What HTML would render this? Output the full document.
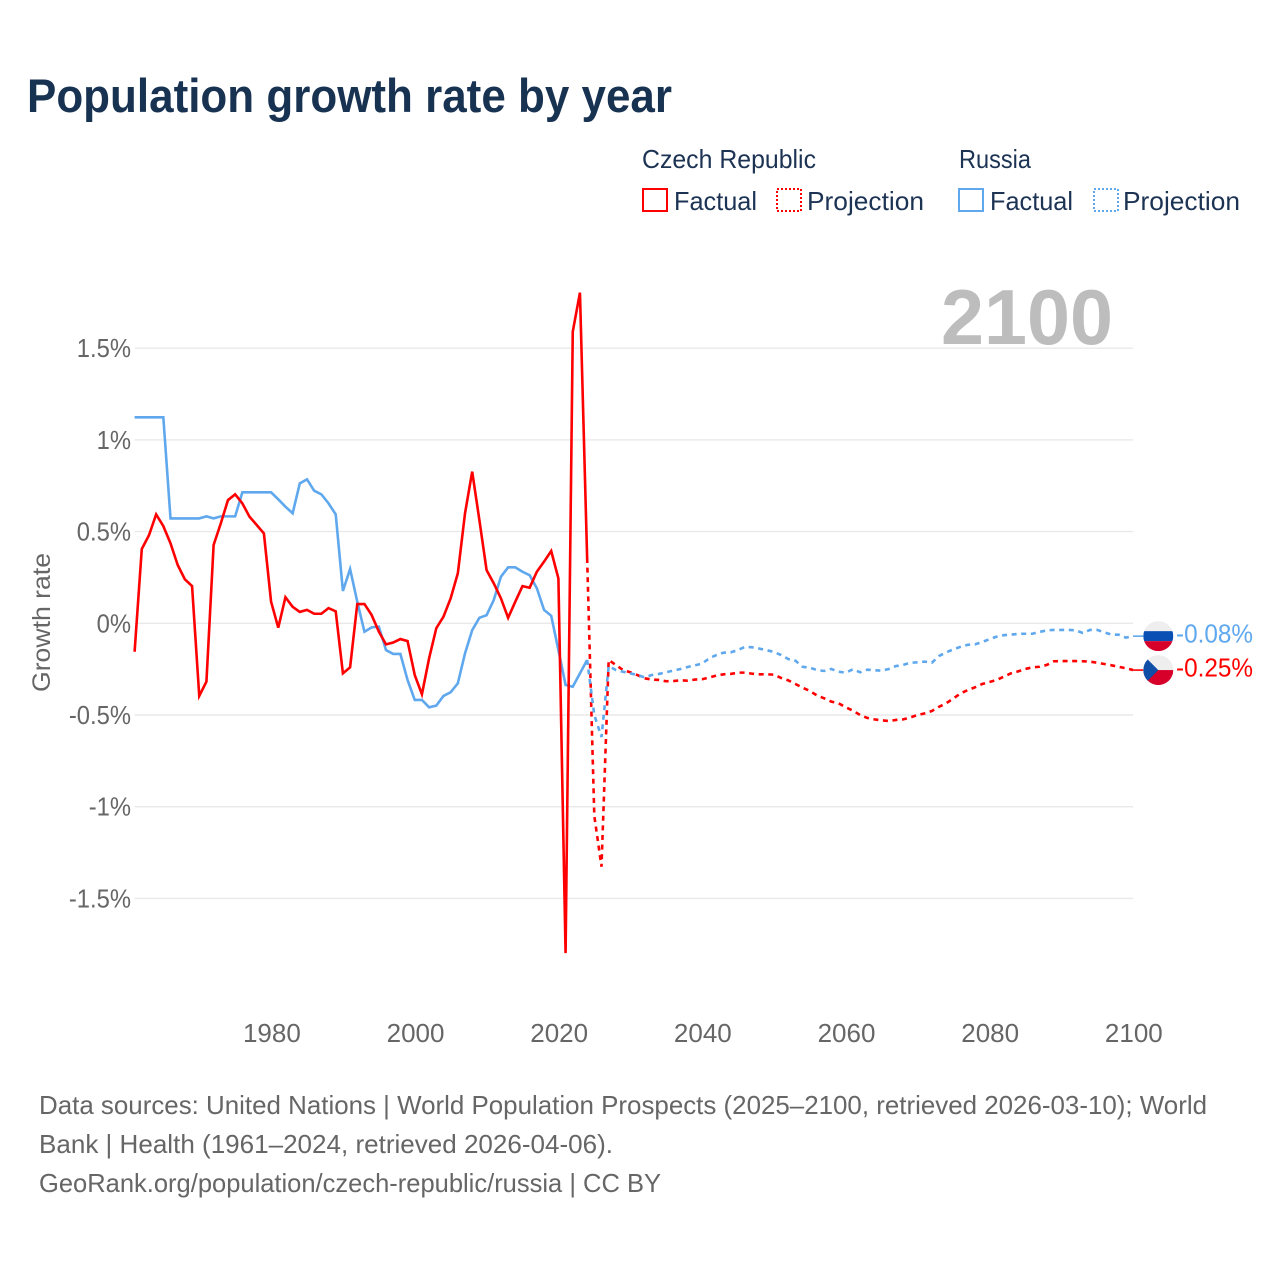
<!DOCTYPE html>
<html lang="en">
<head>
<meta charset="utf-8">
<title>Population growth rate by year</title>
<style>
html,body{margin:0;padding:0;background:#fff;width:1280px;height:1280px;overflow:hidden}
svg{display:block}
text{font-family:"Liberation Sans",sans-serif}
</style>
</head>
<body>
<svg id="chart" width="1280" height="1280" viewBox="0 0 1280 1280" xmlns="http://www.w3.org/2000/svg">
  <rect x="0" y="0" width="1280" height="1280" fill="#fff"/>
  <text x="27" y="112" font-size="47" font-weight="700" fill="#183252" textLength="645" lengthAdjust="spacingAndGlyphs">Population growth rate by year</text>

  <g>
    <text x="642" y="168" font-size="26" fill="#1c3354" textLength="174" lengthAdjust="spacingAndGlyphs">Czech Republic</text>
    <text x="959" y="168" font-size="26" fill="#1c3354" textLength="72" lengthAdjust="spacingAndGlyphs">Russia</text>
    <rect x="643" y="189" width="24" height="22" fill="none" stroke="#ff0000" stroke-width="2" shape-rendering="crispEdges"/>
    <text x="674" y="210" font-size="26" fill="#1c3354" textLength="83" lengthAdjust="spacingAndGlyphs">Factual</text>
    <rect x="777" y="189" width="24" height="22" fill="none" stroke="#ff0000" stroke-width="2" stroke-dasharray="2 2" shape-rendering="crispEdges"/>
    <text x="807" y="210" font-size="26" fill="#1c3354" textLength="117" lengthAdjust="spacingAndGlyphs">Projection</text>
    <rect x="959" y="189" width="24" height="22" fill="none" stroke="#5fa8ee" stroke-width="2" shape-rendering="crispEdges"/>
    <text x="990" y="210" font-size="26" fill="#1c3354" textLength="83" lengthAdjust="spacingAndGlyphs">Factual</text>
    <rect x="1094" y="189" width="24" height="22" fill="none" stroke="#5fa8ee" stroke-width="2" stroke-dasharray="2 2" shape-rendering="crispEdges"/>
    <text x="1123" y="210" font-size="26" fill="#1c3354" textLength="117" lengthAdjust="spacingAndGlyphs">Projection</text>
  </g>

  <g id="grid"></g>
  <g id="y-ticks"></g>
  <g id="x-ticks"></g>

  <text transform="translate(50 692) rotate(-90)" font-size="25" fill="#666" textLength="139" lengthAdjust="spacingAndGlyphs">Growth rate</text>
  <text x="941" y="344" font-size="78" font-weight="700" fill="#bdbdbd" textLength="172" lengthAdjust="spacingAndGlyphs">2100</text>

  <g id="series"></g>
  <g id="end-markers"></g>

  <g>
    <text x="39" y="1114" font-size="26" fill="#666" textLength="1168" lengthAdjust="spacingAndGlyphs">Data sources: United Nations | World Population Prospects (2025–2100, retrieved 2026-03-10); World</text>
    <text x="39" y="1153" font-size="26" fill="#666" textLength="574" lengthAdjust="spacingAndGlyphs">Bank | Health (1961–2024, retrieved 2026-04-06).</text>
    <text x="39" y="1192" font-size="26" fill="#666" textLength="622" lengthAdjust="spacingAndGlyphs">GeoRank.org/population/czech-republic/russia | CC BY</text>
  </g>
</svg>

<script>
const xTickYears = [1980, 2000, 2020, 2040, 2060, 2080, 2100];
const yTickValues = [1.5, 1, 0.5, 0, -0.5, -1, -1.5];
const yTickLabels = ['1.5%', '1%', '0.5%', '0%', '-0.5%', '-1%', '-1.5%'];

const factualStartYear = 1961;
const projectionStartYear = 2024;

const czechFactual = [
  -0.155, 0.405, 0.48, 0.594, 0.53, 0.436, 0.318, 0.24, 0.203, -0.396,
  -0.318, 0.427, 0.545, 0.672, 0.703, 0.654, 0.581, 0.536, 0.49, 0.118,
  -0.024, 0.142, 0.09, 0.062, 0.073, 0.052, 0.052, 0.083, 0.065, -0.273,
  -0.24, 0.105, 0.105, 0.045, -0.045, -0.115, -0.105, -0.086, -0.097, -0.282,
  -0.387, -0.191, -0.027, 0.036, 0.136, 0.273, 0.6, 0.827, 0.563, 0.29,
  0.218, 0.136, 0.03, 0.118, 0.203, 0.194, 0.281, 0.336, 0.394, 0.245,
  -1.798, 1.59, 1.803, 0.356
];
const czechProjection = [
  0.356, -1.05, -1.327, -0.2, -0.227, -0.255, -0.267, -0.282, -0.3, -0.307,
  -0.309, -0.316, -0.315, -0.311, -0.313, -0.307, -0.305, -0.296, -0.285, -0.278,
  -0.276, -0.269, -0.269, -0.275, -0.278, -0.278, -0.28, -0.298, -0.311, -0.331,
  -0.351, -0.369, -0.393, -0.409, -0.427, -0.436, -0.458, -0.476, -0.5, -0.516,
  -0.524, -0.529, -0.533, -0.527, -0.524, -0.513, -0.5, -0.491, -0.478, -0.455,
  -0.436, -0.409, -0.382, -0.364, -0.349, -0.331, -0.32, -0.309, -0.291, -0.273,
  -0.262, -0.249, -0.24, -0.237, -0.227, -0.207, -0.206, -0.206, -0.206, -0.207,
  -0.209, -0.215, -0.222, -0.229, -0.237, -0.245, -0.255
];
const russiaFactual = [
  1.123, 1.123, 1.123, 1.123, 1.123, 0.572, 0.572, 0.572, 0.572, 0.572,
  0.583, 0.572, 0.583, 0.583, 0.583, 0.714, 0.714, 0.714, 0.714, 0.714,
  0.676, 0.636, 0.6, 0.763, 0.785, 0.723, 0.703, 0.654, 0.594, 0.176,
  0.296, 0.118, -0.046, -0.022, -0.018, -0.146, -0.167, -0.167, -0.309, -0.418,
  -0.418, -0.458, -0.449, -0.396, -0.376, -0.327, -0.164, -0.037, 0.03, 0.044,
  0.127, 0.254, 0.305, 0.305, 0.281, 0.262, 0.191, 0.073, 0.041, -0.146,
  -0.336, -0.346, -0.273, -0.2
];
const russiaProjection = [
  -0.2, -0.5, -0.62, -0.233, -0.255, -0.264, -0.273, -0.282, -0.295, -0.282,
  -0.276, -0.267, -0.258, -0.249, -0.238, -0.229, -0.22, -0.191, -0.173, -0.16,
  -0.158, -0.146, -0.128, -0.131, -0.138, -0.147, -0.156, -0.173, -0.195, -0.204,
  -0.237, -0.242, -0.255, -0.26, -0.249, -0.264, -0.269, -0.251, -0.267, -0.253,
  -0.256, -0.258, -0.249, -0.233, -0.227, -0.215, -0.213, -0.209, -0.215, -0.178,
  -0.158, -0.142, -0.128, -0.117, -0.115, -0.102, -0.087, -0.073, -0.065, -0.062,
  -0.058, -0.057, -0.057, -0.047, -0.038, -0.036, -0.036, -0.036, -0.038, -0.053,
  -0.036, -0.036, -0.049, -0.062, -0.062, -0.078, -0.07
];
const russiaEndLabel = '-0.08%';
const czechEndLabel = '-0.25%';

const SVG_NS = 'http://www.w3.org/2000/svg';
const RED = '#ff0000';
const BLUE = '#5fa8ee';

function xScale(year) { return 134.6 + (year - 1961) * 7.183; }
function yScale(value) { return 623.3 - value * 183.4; }

function make(tag, attrs, parent) {
  const el = document.createElementNS(SVG_NS, tag);
  Object.keys(attrs).forEach(function (k) { el.setAttribute(k, attrs[k]); });
  parent.appendChild(el);
  return el;
}

const gridGroup = document.getElementById('grid');
const yTickGroup = document.getElementById('y-ticks');
const xTickGroup = document.getElementById('x-ticks');
const seriesGroup = document.getElementById('series');
const markerGroup = document.getElementById('end-markers');

yTickValues.forEach(function (value, i) {
  const line = make('line', { x1: 134.6, x2: 1133, y1: yScale(value), y2: yScale(value), stroke: '#e9e9e9', 'stroke-width': 1.4 }, gridGroup);
  
  
  const label = make('text', { x: 131, y: yScale(value) + 9, 'text-anchor': 'end', 'font-size': 26, fill: '#666', lengthAdjust: 'spacingAndGlyphs' }, yTickGroup);
  
  
  label.textContent = yTickLabels[i];
  label.setAttribute('textLength', (label.getComputedTextLength() * 0.915).toFixed(1));
});

xTickYears.forEach(function (year) {
  const label = make('text', { x: xScale(year) + 0.8, y: 1042, 'text-anchor': 'middle', 'font-size': 26, fill: '#666' }, xTickGroup);
  
  
  label.textContent = String(year);
});

function pointsFor(values, startYear) {
  return values.map(function (v, i) {
    return xScale(startYear + i).toFixed(2) + ',' + yScale(v).toFixed(2);
  }).join(' ');
}

function drawLine(values, startYear, color, dashed) {
  const attrs = { points: pointsFor(values, startYear), fill: 'none', stroke: color, 'stroke-width': 2.6, 'stroke-linejoin': 'miter' };
  if (dashed) { attrs['stroke-dasharray'] = '5 4.6'; }
  return make('polyline', attrs, seriesGroup);
}

const russiaFactualLine = drawLine(russiaFactual, factualStartYear, BLUE, false);


const czechFactualLine = drawLine(czechFactual, factualStartYear, RED, false);


const czechProjectionLine = drawLine(czechProjection, projectionStartYear, RED, true);


const russiaProjectionLine = drawLine(russiaProjection, projectionStartYear, BLUE, true);



const flagX = 1158.3;
const flagR = 15;
const defs = make('defs', {}, markerGroup);
const russiaEndY = yScale(russiaProjection[russiaProjection.length - 1]);
const czechEndY = yScale(czechProjection[czechProjection.length - 1]);
const clipRu = make('clipPath', { id: 'clip-ru' }, defs);
make('circle', { cx: flagX, cy: russiaEndY, r: flagR }, clipRu);
const clipCz = make('clipPath', { id: 'clip-cz' }, defs);
make('circle', { cx: flagX, cy: czechEndY, r: flagR }, clipCz);

const ruStub = make('line', { x1: xScale(2100), x2: flagX - flagR, y1: russiaEndY, y2: russiaEndY, stroke: BLUE, 'stroke-width': 1.6 }, markerGroup);


const czStub = make('line', { x1: xScale(2100), x2: flagX - flagR, y1: czechEndY, y2: czechEndY, stroke: RED, 'stroke-width': 1.6 }, markerGroup);



const ruFlag = make('g', { 'clip-path': 'url(#clip-ru)' }, markerGroup);


make('rect', { x: flagX - flagR, y: russiaEndY - flagR, width: 2 * flagR, height: 10, fill: '#eeeeee' }, ruFlag);
make('rect', { x: flagX - flagR, y: russiaEndY - flagR + 10, width: 2 * flagR, height: 10, fill: '#0a50b4' }, ruFlag);
make('rect', { x: flagX - flagR, y: russiaEndY - flagR + 20, width: 2 * flagR, height: 10, fill: '#d6002b' }, ruFlag);

const czFlag = make('g', { 'clip-path': 'url(#clip-cz)' }, markerGroup);


make('rect', { x: flagX - flagR, y: czechEndY - flagR, width: 2 * flagR, height: flagR, fill: '#eeeeee' }, czFlag);
make('rect', { x: flagX - flagR, y: czechEndY, width: 2 * flagR, height: flagR, fill: '#d6002b' }, czFlag);
make('polygon', { points: (flagX - flagR) + ',' + (czechEndY - flagR) + ' ' + flagX + ',' + czechEndY + ' ' + (flagX - flagR) + ',' + (czechEndY + flagR), fill: '#0f4fa8' }, czFlag);

const ruText = make('text', { x: 1176, y: russiaEndY + 6.5, 'font-size': 26, fill: BLUE, textLength: 77, lengthAdjust: 'spacingAndGlyphs' }, markerGroup);


ruText.textContent = russiaEndLabel;
const czText = make('text', { x: 1176, y: czechEndY + 6.5, 'font-size': 26, fill: RED, textLength: 77, lengthAdjust: 'spacingAndGlyphs' }, markerGroup);


czText.textContent = czechEndLabel;
</script>
</body>
</html>
